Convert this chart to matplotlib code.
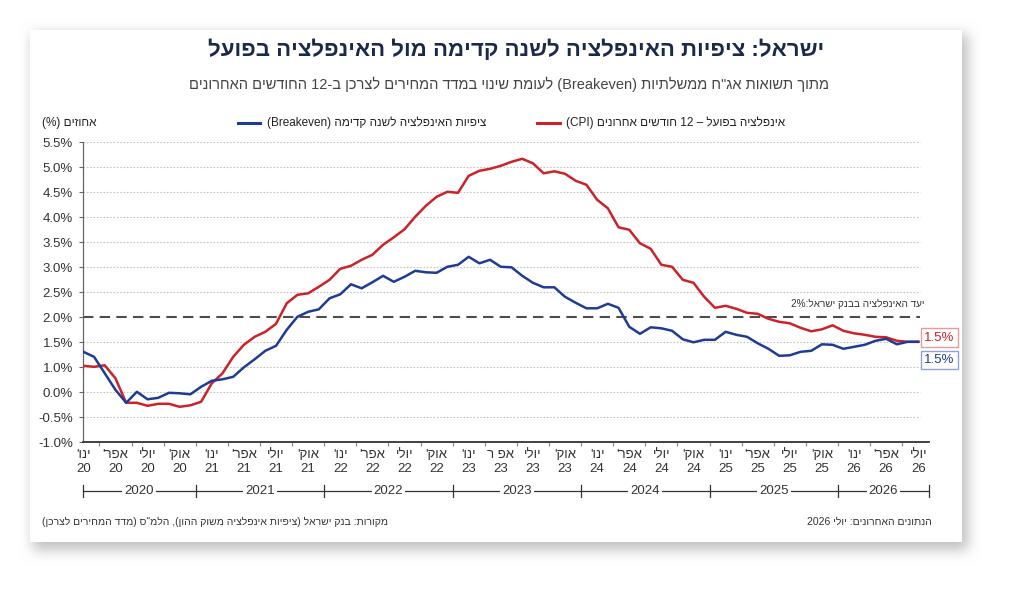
import re
import numpy as np
import matplotlib
matplotlib.use("Agg")
import matplotlib.pyplot as plt
from matplotlib.patches import Rectangle
from matplotlib.lines import Line2D

plt.rcParams['font.family'] = ['Liberation Sans', 'DejaVu Sans']

# ---- data (monthly, Jan 2020 .. Jul 2026) ----
cpi = [1.03, 1.01, 1.04, 0.78, 0.29, 0.29, 0.23, 0.27, 0.27, 0.21, 0.24, 0.31,
       0.68, 0.88, 1.21, 1.45, 1.61, 1.71, 1.87, 2.28, 2.45, 2.48, 2.61, 2.75,
       2.97, 3.03, 3.15, 3.25, 3.45, 3.60, 3.76, 4.01, 4.23, 4.41, 4.51, 4.49,
       4.83, 4.93, 4.97, 5.03, 5.11, 5.17, 5.08, 4.88, 4.92, 4.87, 4.73, 4.65,
       4.35, 4.18, 3.80, 3.75, 3.48, 3.37, 3.05, 3.01, 2.75, 2.69, 2.41, 2.19,
       2.23, 2.17, 2.09, 2.07, 1.97, 1.91, 1.88, 1.79, 1.72, 1.76, 1.84, 1.73,
       1.68, 1.65, 1.61, 1.60, 1.53, 1.51, 1.51]
breakeven = [1.31, 1.21, 0.88, 0.55, 0.29, 0.51, 0.36, 0.39, 0.49, 0.48, 0.46, 0.61,
             0.73, 0.76, 0.81, 1.00, 1.16, 1.33, 1.43, 1.75, 2.01, 2.11, 2.16, 2.38,
             2.46, 2.66, 2.58, 2.70, 2.83, 2.71, 2.81, 2.93, 2.90, 2.89, 3.01, 3.05,
             3.21, 3.08, 3.15, 3.01, 3.00, 2.83, 2.69, 2.60, 2.60, 2.41, 2.29, 2.18,
             2.18, 2.27, 2.19, 1.81, 1.67, 1.80, 1.78, 1.73, 1.56, 1.50, 1.55, 1.55,
             1.71, 1.65, 1.61, 1.48, 1.37, 1.23, 1.24, 1.31, 1.33, 1.46, 1.45, 1.37,
             1.41, 1.45, 1.53, 1.57, 1.46, 1.51, 1.51]
years = [2020, 2021, 2022, 2023, 2024, 2025, 2026]
month_names = ["ינו'", "אפר'", "יולי", "אוק'"]
# grid positions and the labels printed on them (0.5% label is absent in the original)
ytick_pos = [5.5, 5.0, 4.5, 4.0, 3.5, 3.0, 2.5, 2.0, 1.5, 1.0, 0.5, 0.0, -0.5]
ytick_lab = ["5.5%", "5.0%", "4.5%", "4.0%", "3.5%", "3.0%", "2.5%", "2.0%",
             "1.5%", "1.0%", "0.0%", "-0.5%", "-1.0%"]
target = 2.0
last_label = "1.5%"

RED = '#cc2229'
BLUE = '#1f3c94'
NAVY = '#1b2a4a'

MIRROR = str.maketrans("()", ")(")


def rtl(s):
    """visual order for a right-to-left string (matplotlib has no bidi)"""
    r = s[::-1].translate(MIRROR)
    return re.sub(r"[A-Za-z0-9%.]+", lambda m: m.group(0)[::-1], r)


W, H = 1024, 604
fig = plt.figure(figsize=(W / 100, H / 100), dpi=100)
fig.patch.set_facecolor('white')


def fx(px):
    return px / W


def fy(py):
    return 1 - py / H


# ---- card with soft shadow ----
bg = fig.add_axes([0, 0, 1, 1], zorder=-10)
yy, xx = np.mgrid[0:H, 0:W]
mask = ((xx >= 33) & (xx < 968) & (yy >= 34) & (yy < 550)).astype(float)
k = np.ones(15) / 15
for _ in range(2):
    mask = np.apply_along_axis(lambda v: np.convolve(v, k, mode='same'), 0, mask)
    mask = np.apply_along_axis(lambda v: np.convolve(v, k, mode='same'), 1, mask)
alpha = 0.45 * mask
img = np.dstack([1 - alpha * 0.55] * 3)
bg.imshow(img, extent=[0, W, H, 0], aspect='auto', interpolation='bilinear')
bg.add_patch(Rectangle((30, 30), 932, 512, facecolor='white', edgecolor='none'))
bg.set_xlim(0, W)
bg.set_ylim(H, 0)
bg.axis('off')

# ---- main axes ----
ax = fig.add_axes([fx(82.7), fy(442.3), fx(929) - fx(82.7), fy(142.3) - fy(442.3)])
ax.set_facecolor('white')
x = np.arange(len(cpi))
x0, x1 = -0.06, 79.0
ax.set_xlim(x0, x1)
ax.set_ylim(-0.5, 5.5)

for p in ytick_pos:
    if p != target:
        ax.hlines(p, x0, 78.2, colors='#c4c4c4', linestyles=(0, (1.5, 1.5)), lw=0.8, zorder=1)
ax.hlines(target, x0, 78.2, colors='#4d4d4d', linestyles=(0, (5, 3)), lw=1.5, zorder=2)

ax.plot(x, cpi, color=RED, lw=1.8, zorder=4)
ax.plot(x, breakeven, color=BLUE, lw=1.8, zorder=5)

ax.set_yticks(ytick_pos)
ax.set_yticklabels(ytick_lab)
ax.tick_params(axis='y', length=3, width=0.8, color='#666666', labelsize=9.5,
               labelcolor='#333333', pad=4)

tick_x = list(range(0, len(cpi), 3))
tick_lab = []
for i in tick_x:
    mname = month_names[(i % 12) // 3]
    if i == 39:
        mname = "אפ ר"
    tick_lab.append(rtl(mname) + "\n" + str(years[i // 12] % 100))
ax.set_xticks(tick_x)
ax.set_xticklabels(tick_lab, linespacing=1.25)
ax.set_xticks([3 * q - 1.5 for q in range(1, 27)], minor=True)
ax.tick_params(axis='x', which='major', length=0, labelsize=9.5, labelcolor='#333333', pad=5)
ax.tick_params(axis='x', which='minor', length=3, width=0.8, color='#888888')

for s in ['top', 'right']:
    ax.spines[s].set_visible(False)
ax.spines['left'].set_color('#666666')
ax.spines['left'].set_linewidth(0.9)
ax.spines['bottom'].set_color('#333333')
ax.spines['bottom'].set_linewidth(1.3)

# target label
ax.annotate(rtl("יעד האינפלציה בבנק ישראל:2%"), (78.6, target), xytext=(0, 6),
            textcoords='offset points', ha='right', va='bottom', fontsize=7.2, color='#333333')

# end value labels
ax.annotate(last_label, (x[-1], cpi[-1]), xytext=(4, 3), textcoords='offset points',
            ha='left', va='center', fontsize=9.5, color=RED, annotation_clip=False,
            bbox=dict(boxstyle='square,pad=0.25', fc='white', ec='#eb9a9a', lw=1))
ax.annotate(last_label, (x[-1], breakeven[-1]), xytext=(4, -13), textcoords='offset points',
            ha='left', va='center', fontsize=9.5, color=BLUE, annotation_clip=False,
            bbox=dict(boxstyle='square,pad=0.25', fc='white', ec='#8fa3d6', lw=1))

# year brackets below the axis
tr = ax.get_xaxis_transform()
yb = -0.162
bounds = [x0] + [12 * k - 1.5 for k in range(1, len(years))] + [x1]
ax.add_line(Line2D([x0, x1], [yb, yb], transform=tr, color='#333333', lw=0.9, clip_on=False))
for b in bounds:
    ax.add_line(Line2D([b, b], [yb - 0.02, yb + 0.02], transform=tr, color='#333333',
                       lw=0.9, clip_on=False))
for j, yr in enumerate(years):
    ax.text((bounds[j] + bounds[j + 1]) / 2, yb, str(yr), transform=tr, ha='center', va='center',
            fontsize=9.5, color='#333333', bbox=dict(fc='white', ec='none', pad=1.5), clip_on=False)

# ---- titles, legend, notes ----
fig.text(fx(516), fy(50), rtl("ישראל: ציפיות האינפלציה לשנה קדימה מול האינפלציה בפועל"),
         ha='center', va='center', fontsize=16, fontweight='bold', color=NAVY)
fig.text(fx(509), fy(84),
         rtl('מתוך תשואות אג"ח ממשלתיות (Breakeven) לעומת שינוי במדד המחירים לצרכן ב-12 החודשים האחרונים'),
         ha='center', va='center', fontsize=10.5, color='#444444')
fig.text(fx(42), fy(123), rtl("אחוזים (%)"), ha='left', va='center', fontsize=8.5, color='#222222')

fig.add_artist(Line2D([fx(238), fx(260)], [fy(123), fy(123)], color=BLUE, lw=2.2))
fig.text(fx(267), fy(123), rtl("ציפיות האינפלציה לשנה קדימה (Breakeven)"), ha='left', va='center',
         fontsize=8.5, color='#222222')
fig.add_artist(Line2D([fx(537), fx(560)], [fy(123), fy(123)], color=RED, lw=2.2))
fig.text(fx(566), fy(123), rtl("אינפלציה בפועל – 12 חודשים אחרונים (CPI)"), ha='left', va='center',
         fontsize=8.5, color='#222222')

fig.text(fx(42), fy(522), rtl('מקורות: בנק ישראל (ציפיות אינפלציה משוק ההון), הלמ"ס (מדד המחירים לצרכן)'),
         ha='left', va='center', fontsize=7.5, color='#333333')
fig.text(fx(932), fy(522), rtl("הנתונים האחרונים: יולי 2026"), ha='right', va='center',
         fontsize=7.5, color='#333333')

fig.savefig("out.png", dpi=100)
